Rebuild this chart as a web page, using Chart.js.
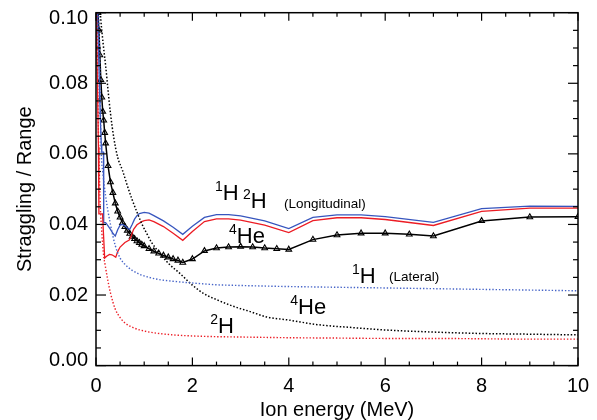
<!DOCTYPE html>
<html><head><meta charset="utf-8">
<script src="https://cdn.jsdelivr.net/npm/chart.js@4.4.1/dist/chart.umd.min.js"></script>
<style>html,body{margin:0;padding:0;background:#fff;}canvas{display:block}</style>
</head><body>
<canvas id="c" width="597" height="420" style="width:597px;height:420px"></canvas>
<script>
// ---- Data ----
// Energies in MeV, values are straggling / range
const H1_LONG_E = [0.0,0.03,0.06,0.09,0.11,0.12,0.155,0.16,0.2,0.25,0.3,0.35,0.4,0.45,0.5,0.55,0.6,0.65,0.7,0.75,0.8,0.85,0.9,1.0,1.1,1.2,1.4,1.6,1.8,2.0,2.25,2.5,2.75,3.0,3.5,4.0,4.5,5.0,5.5,6.0,7.0,8.0,9.0,10.0];
const H1_LONG_V = [0.105,0.100,0.085,0.070,0.0625,0.0605,0.0605,0.0405,0.0405,0.0396,0.0386,0.0375,0.0367,0.0385,0.0398,0.0400,0.0396,0.0390,0.0386,0.0400,0.0415,0.0425,0.0431,0.0434,0.0432,0.0425,0.0410,0.0392,0.0372,0.0395,0.0420,0.0428,0.0428,0.0424,0.0410,0.0388,0.0420,0.0427,0.0427,0.0422,0.0406,0.0445,0.0452,0.0451];

const H2_LONG_E = [0.0,0.03,0.05,0.06,0.135,0.18,0.22,0.28,0.33,0.38,0.41,0.45,0.5,0.6,0.69,0.72,0.78,0.85,0.95,1.0,1.1,1.2,1.4,1.6,1.8,2.0,2.25,2.5,2.75,3.0,3.5,4.0,4.5,5.0,5.5,6.0,7.0,8.0,9.0,10.0];
const H2_LONG_V = [0.100,0.080,0.062,0.043,0.043,0.0305,0.0310,0.0315,0.0314,0.0310,0.0307,0.0323,0.0336,0.0349,0.0356,0.0364,0.0386,0.0399,0.0408,0.0411,0.0413,0.0408,0.0394,0.0375,0.0355,0.0380,0.0408,0.0416,0.0416,0.0412,0.0398,0.0377,0.0411,0.0419,0.0419,0.0414,0.0397,0.0437,0.0446,0.0446];

const HE4_LONG_E = [0.04,0.06,0.08,0.1,0.12,0.14,0.16,0.18,0.2,0.25,0.3,0.35,0.4,0.45,0.5,0.55,0.6,0.65,0.7,0.75,0.8,0.85,0.9,0.95,1.0,1.1,1.2,1.3,1.4,1.5,1.6,1.7,1.8,2.0,2.25,2.5,2.75,3.0,3.25,3.5,3.75,4.0,4.5,5.0,5.5,6.0,6.5,7.0,8.0,9.0,10.0];
const HE4_LONG_V = [0.100,0.095,0.088,0.081,0.076,0.072,0.0695,0.066,0.063,0.0566,0.0520,0.0490,0.0460,0.0437,0.0420,0.0405,0.0393,0.0383,0.0374,0.0366,0.0359,0.0353,0.0348,0.0343,0.0339,0.0331,0.0324,0.0318,0.0312,0.0307,0.0302,0.0298,0.0292,0.0302,0.0325,0.0333,0.0336,0.0337,0.0336,0.0333,0.0331,0.0329,0.0357,0.0370,0.0375,0.0375,0.0372,0.0367,0.0410,0.0421,0.0422];

const H1_LAT_E = [0.06,0.08,0.1,0.11,0.14,0.2,0.3,0.4,0.5,0.6,0.75,0.9,1.1,1.3,1.6,2.0,2.5,3.0,4.0,5.0,6.0,7.0,8.0,9.0,10.0];
const H1_LAT_V = [0.100,0.085,0.066,0.060,0.055,0.048,0.040,0.034,0.0305,0.0287,0.0270,0.0259,0.0250,0.0244,0.0239,0.0234,0.0229,0.0227,0.0224,0.0222,0.0220,0.0218,0.0216,0.0214,0.0212];

const H2_LAT_E = [0.02,0.04,0.06,0.09,0.12,0.16,0.19,0.23,0.3,0.4,0.5,0.6,0.8,1.0,1.2,1.6,2.0,2.5,3.0,4.0,5.0,6.0,7.0,8.0,9.0,10.0];
const H2_LAT_V = [0.100,0.075,0.060,0.045,0.038,0.031,0.0285,0.0253,0.0206,0.0160,0.0136,0.0121,0.0106,0.0098,0.0093,0.0087,0.0084,0.0082,0.0081,0.0079,0.0078,0.0077,0.0077,0.0076,0.0075,0.0075];

const HE4_LAT_E = [0.08,0.1,0.15,0.2,0.25,0.3,0.37,0.45,0.55,0.65,0.75,0.85,0.95,1.05,1.15,1.3,1.5,1.75,2.0,2.25,2.5,2.85,3.2,3.54,4.0,4.6,5.3,6.0,7.0,8.0,9.0,10.0];
const HE4_LAT_V = [0.102,0.098,0.091,0.085,0.078,0.0715,0.0645,0.059,0.0553,0.051,0.047,0.0435,0.0402,0.0375,0.035,0.0322,0.029,0.026,0.0228,0.0203,0.0187,0.0168,0.0153,0.0138,0.0129,0.0116,0.0108,0.0101,0.0095,0.0091,0.0089,0.0087];

const X_TICKS = [0,2,4,6,8,10];
const Y_TICKS = [0.00,0.02,0.04,0.06,0.08,0.10];

// Annotation labels: superscript, main text, energy, value (baseline), small text flag
const LABEL_SUP  = ['1','2','','4','1','','4','2'];
const LABEL_MAIN = ['H','H','(Longitudinal)','He','H','(Lateral)','He','H'];
const LABEL_E    = [2.47,3.05,3.90,2.76,5.31,6.08,4.03,2.37];
const LABEL_V    = [0.0469,0.0447,0.0446,0.0347,0.0234,0.0240,0.0146,0.0092];
const LABEL_SMALL= [false,false,true,false,false,true,false,false];

// ---- Build ----
const FONT = '"Liberation Sans", Arial, Helvetica, sans-serif';
const pts = (E,V) => E.map((e,i)=>({x:e,y:V[i]}));
const BLUE='rgb(55,85,190)', RED='rgb(236,28,36)', BLACK='#000';

const datasets = [
  {data:pts(H1_LAT_E,H1_LAT_V), borderColor:'rgb(70,100,200)', borderWidth:1.4, borderDash:[1.4,1.9], pointRadius:0, cubicInterpolationMode:'monotone'},
  {data:pts(H2_LAT_E,H2_LAT_V), borderColor:RED, borderWidth:1.4, borderDash:[1.4,1.9], pointRadius:0, cubicInterpolationMode:'monotone'},
  {data:pts(HE4_LAT_E,HE4_LAT_V), borderColor:BLACK, borderWidth:1.5, borderDash:[1.5,1.9], pointRadius:0, cubicInterpolationMode:'monotone'},
  {data:pts(H2_LONG_E,H2_LONG_V), borderColor:RED, borderWidth:1.3, pointRadius:0, tension:0},
  {data:pts(H1_LONG_E,H1_LONG_V), borderColor:BLUE, borderWidth:1.3, pointRadius:0, tension:0},
  {data:pts(HE4_LONG_E,HE4_LONG_V), borderColor:BLACK, borderWidth:1.5, tension:0,
   pointStyle:'triangle', pointRadius:3.3, pointBorderWidth:1.1, pointBorderColor:BLACK, pointBackgroundColor:'rgba(255,255,255,0)'}
];

const framePlugin = {
  id:'frame',
  beforeDraw(chart){
    // IDL-style: the end labels of the y axis sit inside the axis range
    const items = chart.scales.y.getLabelItems();
    if(items && items.length){
      const first = items[0], last = items[items.length-1];
      if(!first._shifted){ first.options.translation[1] -= 5; first._shifted = true; }
      if(!last._shifted){ last.options.translation[1] += 6; last._shifted = true; }
    }
  },
  afterDatasetsDraw(chart){
    const {ctx, chartArea:a, scales:{x,y}} = chart;
    ctx.save();
    ctx.strokeStyle='#000'; ctx.lineWidth=1.5;
    ctx.strokeRect(a.left,a.top,a.right-a.left,a.bottom-a.top);
    ctx.lineWidth=1.2;
    const seg=(x1,y1,x2,y2)=>{ctx.beginPath();ctx.moveTo(x1,y1);ctx.lineTo(x2,y2);ctx.stroke();};
    for(let i=0;i<=20;i++){
      const v=i*0.5, px=x.getPixelForValue(v), L=(i%4===0)?8:4;
      seg(px,a.bottom,px,a.bottom-L); seg(px,a.top,px,a.top+L);
    }
    for(let i=0;i<=20;i++){
      const v=i*0.005, py=y.getPixelForValue(v), L=(i%4===0)?10:5;
      seg(a.left,py,a.left+L,py); seg(a.right,py,a.right-L,py);
    }
    // annotations
    ctx.fillStyle='#000'; ctx.textBaseline='alphabetic'; ctx.textAlign='left';
    for(let i=0;i<LABEL_MAIN.length;i++){
      let px=x.getPixelForValue(LABEL_E[i]); const py=y.getPixelForValue(LABEL_V[i]);
      if(LABEL_SMALL[i]){ ctx.font='13.5px '+FONT; ctx.fillText(LABEL_MAIN[i],px,py); continue; }
      if(LABEL_SUP[i]){ ctx.font='14px '+FONT; ctx.fillText(LABEL_SUP[i],px,py-9); px+=ctx.measureText(LABEL_SUP[i]).width; }
      ctx.font='22px '+FONT; ctx.fillText(LABEL_MAIN[i],px,py);
    }
    ctx.restore();
  }
};

new Chart(document.getElementById('c'), {
  type:'line',
  data:{datasets},
  options:{
    responsive:false, animation:false, devicePixelRatio:1,
    layout:{padding:{top:12.7,right:19,left:0,bottom:0}},
    plugins:{legend:{display:false}, tooltip:{enabled:false}},
    scales:{
      x:{type:'linear', min:0, max:10,
        afterBuildTicks(s){ s.ticks = X_TICKS.map(v=>({value:v})); },
        ticks:{padding:9, color:'#000', maxRotation:0, font:{size:20,family:FONT}, callback:v=>String(v)},
        grid:{display:false, drawTicks:false}, border:{display:false},
        title:{display:true, text:'Ion energy (MeV)', color:'#000', padding:0, font:{size:20,family:FONT,lineHeight:1}},
        afterFit(s){ s.height=54.4; s.paddingLeft=0; s.paddingRight=0; }
      },
      y:{min:0, max:0.1,
        afterBuildTicks(s){ s.ticks = Y_TICKS.map(v=>({value:v})); },
        ticks:{padding:8, color:'#000', font:{size:20,family:FONT}, callback:v=>v.toFixed(2)},
        grid:{display:false, drawTicks:false}, border:{display:false},
        title:{display:true, text:'Straggling / Range', color:'#000', padding:{top:13,bottom:0}, font:{size:20,family:FONT}},
        afterFit(s){ s.width=96; s.paddingTop=0; s.paddingBottom=0; }
      }
    }
  },
  plugins:[framePlugin]
});
</script>
</body></html>
